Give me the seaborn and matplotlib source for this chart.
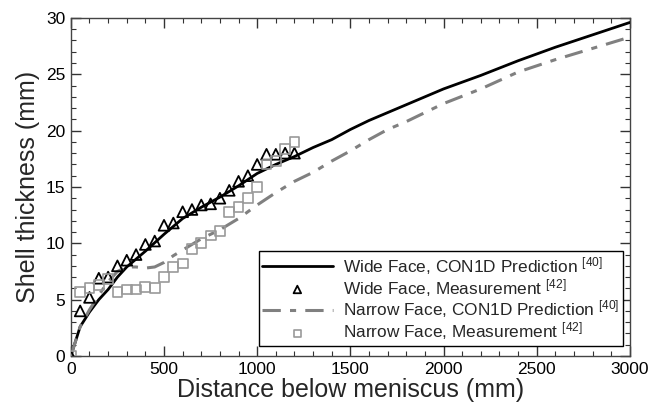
import numpy as np
import pandas as pd
import matplotlib
matplotlib.use("Agg")
import matplotlib.pyplot as plt
import seaborn as sns
from matplotlib.ticker import MultipleLocator

# ---- data ----
wide_pred_x = [0, 50, 100, 150, 200, 250, 300, 400, 500, 600, 700, 800, 900, 1000, 1100, 1200,
               1300, 1400, 1500, 1600, 1700, 1800, 1900, 2000, 2200, 2400, 2600, 2800, 3000]
wide_pred_y = [0, 2.6, 3.9, 5.0, 5.9, 7.0, 7.9, 9.3, 10.8, 12.2, 13.2, 14.1, 15.1, 16.2, 17.0, 17.7,
               18.5, 19.2, 20.1, 20.9, 21.6, 22.3, 23.0, 23.7, 24.9, 26.2, 27.4, 28.5, 29.6]

narrow_pred_x = [0, 50, 100, 150, 200, 250, 300, 350, 400, 450, 500, 550, 600, 700, 800, 900, 1000,
                 1100, 1200, 1300, 1400, 1500, 1600, 1700, 1800, 2000, 2200, 2400, 2600, 2800, 3000]
narrow_pred_y = [0, 2.6, 4.1, 5.4, 6.6, 7.5, 7.9, 7.9, 7.8, 7.9, 8.3, 8.9, 9.4, 10.4, 11.2, 12.2, 13.4,
                 14.5, 15.5, 16.3, 17.3, 18.2, 19.2, 20.1, 20.8, 22.4, 23.7, 25.2, 26.3, 27.3, 28.3]

meas_x = [0, 50, 100, 150, 200, 250, 300, 350, 400, 450, 500, 550, 600, 650, 700, 750, 800,
          850, 900, 950, 1000, 1050, 1100, 1150, 1200]
wide_meas_y = [0, 4.0, 5.2, 6.9, 7.0, 8.0, 8.5, 9.0, 9.9, 10.2, 11.6, 11.8, 12.8, 13.0, 13.4, 13.5,
               14.0, 14.7, 15.5, 16.0, 17.0, 17.9, 17.9, 18.0, 18.0]
narrow_meas_y = [0, 5.7, 6.0, 6.3, 6.8, 5.7, 5.9, 5.9, 6.1, 6.0, 7.0, 7.9, 8.2, 9.5, 10.0, 10.7,
                 11.1, 12.8, 13.2, 14.0, 15.0, 17.0, 17.3, 18.4, 19.0]

labels = ["Wide Face, CON1D Prediction $^{[40]}$",
          "Wide Face, Measurement $^{[42]}$",
          "Narrow Face, CON1D Prediction $^{[40]}$",
          "Narrow Face, Measurement $^{[42]}$"]

sns.set_theme(style="ticks")
plt.rcParams['font.family'] = ['Liberation Sans', 'DejaVu Sans']
plt.rcParams['mathtext.fontset'] = 'custom'
plt.rcParams['mathtext.rm'] = 'Liberation Sans'
plt.rcParams['mathtext.it'] = 'Liberation Sans'

fig = plt.figure(figsize=(6.5, 4.08), dpi=100)
ax = fig.add_axes([0.109, 0.1275, 0.86, 0.8285])

wp = pd.DataFrame({"x": wide_pred_x, "y": wide_pred_y})
npd = pd.DataFrame({"x": narrow_pred_x, "y": narrow_pred_y})
wm = pd.DataFrame({"x": meas_x, "y": wide_meas_y})
nm = pd.DataFrame({"x": meas_x, "y": narrow_meas_y})

sns.lineplot(data=wp, x="x", y="y", ax=ax, color="black", lw=2.0, label=labels[0], zorder=3)
sns.scatterplot(data=wm, x="x", y="y", ax=ax, marker="^", s=60, facecolors="none",
                edgecolor="black", linewidth=1.3, label=labels[1], zorder=4)
sns.lineplot(data=npd, x="x", y="y", ax=ax, color="#808080", lw=2.2, label=labels[2],
             zorder=3)
ax.lines[-1].set_dashes([6, 3, 2, 3])
sns.scatterplot(data=nm, x="x", y="y", ax=ax, marker="s", s=50, facecolors="none",
                edgecolor="#999999", linewidth=1.2, label=labels[3], zorder=4)

ax.set_xlim(0, 3000)
ax.set_ylim(0, 30)
ax.xaxis.set_major_locator(MultipleLocator(500))
ax.xaxis.set_minor_locator(MultipleLocator(100))
ax.yaxis.set_major_locator(MultipleLocator(5))
ax.yaxis.set_minor_locator(MultipleLocator(1))
ax.tick_params(which="both", direction="in", top=True, right=True, colors="#333333",
               labelcolor="black", labelsize=12.5)
ax.tick_params(which="major", length=7, width=1, pad=4)
ax.tick_params(which="minor", length=3.5, width=0.8)
for s in ax.spines.values():
    s.set_color("#444444")
    s.set_linewidth(1.0)

ax.set_xlabel("Distance below meniscus (mm)", fontsize=18, labelpad=1)
ax.set_ylabel("Shell thickness (mm)", fontsize=18, labelpad=4)

leg = ax.legend(loc="lower right", bbox_to_anchor=(0.9875, 0.03), fontsize=12.4,
                handlelength=4.1, labelspacing=0.0, borderpad=0.2, handletextpad=0.6,
                markerscale=0.7, borderaxespad=0, frameon=True, fancybox=False,
                edgecolor="black", framealpha=1)
leg.get_frame().set_linewidth(1.0)

fig.savefig("out.png", dpi=100)
